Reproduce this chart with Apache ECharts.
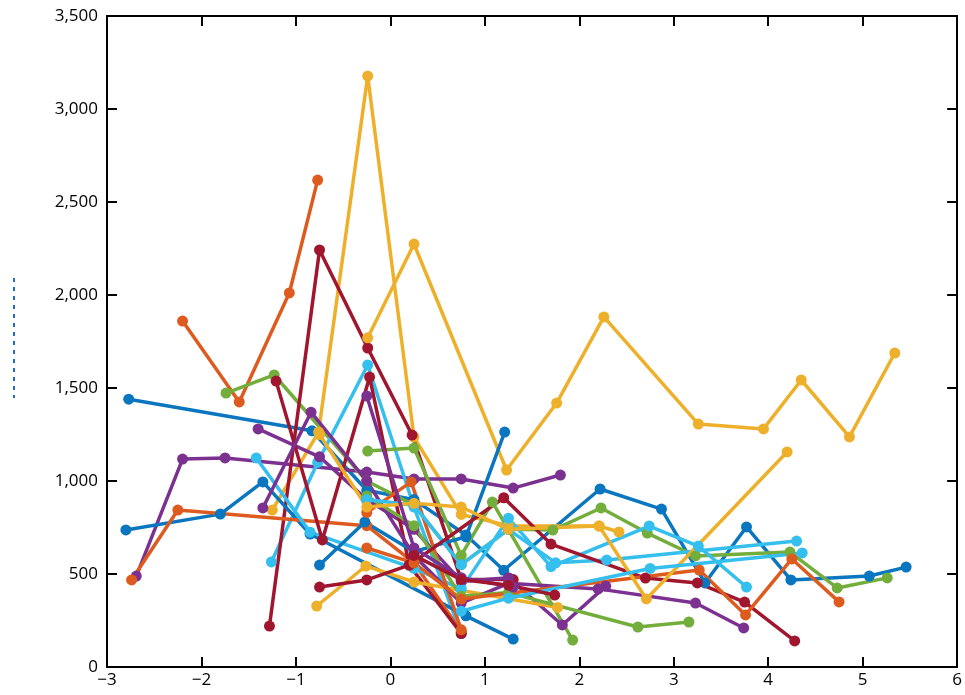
<!DOCTYPE html>
<html>
<head>
<meta charset="utf-8">
<script src="https://cdn.jsdelivr.net/npm/echarts@6/dist/echarts.min.js"></script>
<style>
  html, body { margin: 0; padding: 0; background: #fff; }
  #chart { width: 965px; height: 695px; }
</style>
</head>
<body>
<div id="chart"></div>
<script>
// axis ticks
const xTicks = [-3, -2, -1, 0, 1, 2, 3, 4, 5, 6];
const yTicks = [0, 500, 1000, 1500, 2000, 2500, 3000, 3500];

// series values, [x, y] pairs
const blue1 = [[-2.77, 1440], [-0.83, 1270], [-0.25, 950], [0.25, 900], [0.8, 710], [1.2, 520], [2.22, 957], [2.87, 849], [3.33, 452], [3.77, 753], [4.24, 468], [5.07, 489], [5.46, 537]];
const blue2 = [[-2.8, 737], [-1.8, 822], [-1.35, 995], [-0.85, 715], [0.8, 275], [1.3, 150]];
const blue3 = [[-0.75, 548], [-0.27, 780], [0.25, 620], [0.8, 700], [1.21, 1263]];

const orange1 = [[-2.2, 1860], [-1.6, 1425], [-1.07, 2011], [-0.77, 2618]];
const orange2 = [[-2.74, 468], [-2.25, 844], [-0.25, 760], [0.25, 560], [0.75, 190]];
const orange3 = [[-0.25, 830], [0.22, 995], [0.75, 200]];
const orange4 = [[-0.25, 640], [0.25, 560], [0.75, 365], [3.27, 521], [3.76, 280], [4.25, 581], [4.75, 350]];

const yellow1 = [[-1.25, 844], [-0.76, 1263], [-0.24, 3177], [0.25, 1236], [0.75, 820], [1.25, 760], [2.21, 758], [2.42, 726]];
const yellow2 = [[-0.24, 1770], [0.25, 2274], [1.23, 1059], [1.76, 1419], [2.26, 1882], [3.26, 1306], [3.95, 1280], [4.35, 1543], [4.86, 1237], [5.34, 1688]];
const yellow3 = [[-0.78, 328], [-0.26, 543], [0.25, 457], [1.77, 320]];
const yellow4 = [[-0.75, 1250], [-0.25, 860], [0.25, 880], [0.75, 860], [1.25, 740], [2.21, 758], [2.71, 366], [4.2, 1156]];

const purple1 = [[-2.69, 489], [-2.2, 1118], [-1.75, 1124], [-0.25, 1048], [0.25, 1011], [0.75, 1011], [1.3, 962], [1.8, 1032]];
const purple2 = [[-1.4, 1280], [-0.75, 1130], [-0.25, 900], [0.25, 740], [0.75, 460], [1.25, 480], [1.82, 226], [2.28, 435]];
const purple3 = [[-1.35, 855], [-0.84, 1370], [-0.25, 1000], [0.25, 600], [0.75, 344], [1.25, 450], [2.2, 420], [3.23, 344], [3.74, 210]];
const purple4 = [[-0.25, 1457], [0.25, 640], [0.75, 480], [1.3, 430]];

const green1 = [[-1.74, 1473], [-1.23, 1570], [-0.25, 1000], [0.25, 870], [0.75, 550], [1.25, 740], [1.72, 736], [2.23, 855], [2.72, 720], [3.23, 597], [4.23, 618], [4.73, 425], [5.26, 479]];
const green2 = [[-0.24, 1161], [0.25, 1177], [0.75, 600], [1.08, 887], [1.93, 145]];
const green3 = [[-0.25, 920], [0.25, 760], [0.75, 380], [1.25, 400], [2.62, 215], [3.16, 242]];

const lightblue1 = [[-1.26, 565], [-0.77, 1100], [-0.24, 1624], [0.25, 860], [0.75, 180]];
const lightblue2 = [[-1.42, 1124], [-0.85, 725], [0.25, 530], [0.75, 420], [1.25, 800], [1.7, 540], [2.74, 758], [3.26, 650], [3.77, 430]];
const lightblue3 = [[-0.25, 900], [0.25, 870], [0.75, 550], [1.25, 740], [1.75, 560], [2.29, 575], [4.3, 677]];
const lightblue4 = [[0.75, 300], [1.25, 370], [2.75, 530], [4.36, 613]];

const darkred1 = [[-1.28, 220], [-0.75, 2242], [-0.24, 1715], [0.23, 1247], [0.75, 470], [1.3, 470]];
const darkred2 = [[-1.21, 1537], [-0.72, 683], [-0.22, 1559], [0.2, 548], [0.75, 180]];
const darkred3 = [[-0.75, 430], [-0.25, 468], [0.2, 548], [1.2, 910], [1.7, 661], [2.7, 478], [3.25, 452], [3.75, 349], [4.28, 140]];
const darkred4 = [[0.25, 600], [0.75, 470], [1.25, 440], [1.74, 387]];

const palette = {
  blue: '#0a76bf', orange: '#de5b1f', yellow: '#eeb02b', purple: '#7c3191',
  green: '#73ae3d', lightblue: '#35bfee', darkred: '#a1162f'
};

const lines = [
  ['blue', blue1], ['orange', orange1], ['yellow', yellow1], ['purple', purple1],
  ['green', green1], ['lightblue', lightblue1], ['darkred', darkred1],
  ['blue', blue2], ['orange', orange2], ['yellow', yellow2], ['purple', purple2],
  ['green', green2], ['lightblue', lightblue2], ['darkred', darkred2],
  ['blue', blue3], ['orange', orange3], ['yellow', yellow3], ['purple', purple3],
  ['green', green3], ['lightblue', lightblue3], ['darkred', darkred3],
  ['orange', orange4], ['yellow', yellow4], ['purple', purple4],
  ['lightblue', lightblue4], ['darkred', darkred4]
];

const fmtX = v => (v < 0 ? '\u2212' + Math.abs(v) : String(v));
const fmtY = v => v.toLocaleString('en-US');

const frameAxis = {
  axisLine: { show: true, onZero: false, lineStyle: { color: '#000', width: 2 } },
  axisTick: { show: true, inside: true, length: 10, lineStyle: { color: '#000', width: 2 } },
  splitLine: { show: false }
};

const chart = echarts.init(document.getElementById('chart'));
chart.setOption({
  animation: false,
  backgroundColor: '#fff',
  grid: { left: 107, right: 7, top: 16, bottom: 28, containLabel: false },
  xAxis: [
    Object.assign({
      type: 'value', min: xTicks[0], max: xTicks[xTicks.length - 1], interval: 1, position: 'bottom',
      axisLabel: { color: '#000', fontFamily: 'Open Sans', fontSize: 17, margin: 5, formatter: fmtX }
    }, frameAxis),
    Object.assign({
      type: 'value', min: xTicks[0], max: xTicks[xTicks.length - 1], interval: 1, position: 'top',
      axisLabel: { show: false }
    }, frameAxis)
  ],
  yAxis: [
    Object.assign({
      type: 'value', min: yTicks[0], max: yTicks[yTicks.length - 1], interval: 500, position: 'left',
      axisLabel: { color: '#000', fontFamily: 'Open Sans', fontSize: 17, margin: 9, formatter: fmtY }
    }, frameAxis),
    Object.assign({
      type: 'value', min: yTicks[0], max: yTicks[yTicks.length - 1], interval: 500, position: 'right',
      axisLabel: { show: false }
    }, frameAxis)
  ],
  graphic: [{
    type: 'line',
    shape: { x1: 14, y1: 278, x2: 14, y2: 398 },
    style: { stroke: '#1f6fc0', lineWidth: 2, lineDash: [4, 5] }
  }],
  series: lines.map(([c, pts]) => ({
    type: 'line',
    xAxisIndex: 0,
    yAxisIndex: 0,
    data: pts,
    symbol: 'circle',
    symbolSize: 11,
    showSymbol: true,
    lineStyle: { color: palette[c], width: 3.5 },
    itemStyle: { color: palette[c] }
  }))
});
</script>
</body>
</html>
